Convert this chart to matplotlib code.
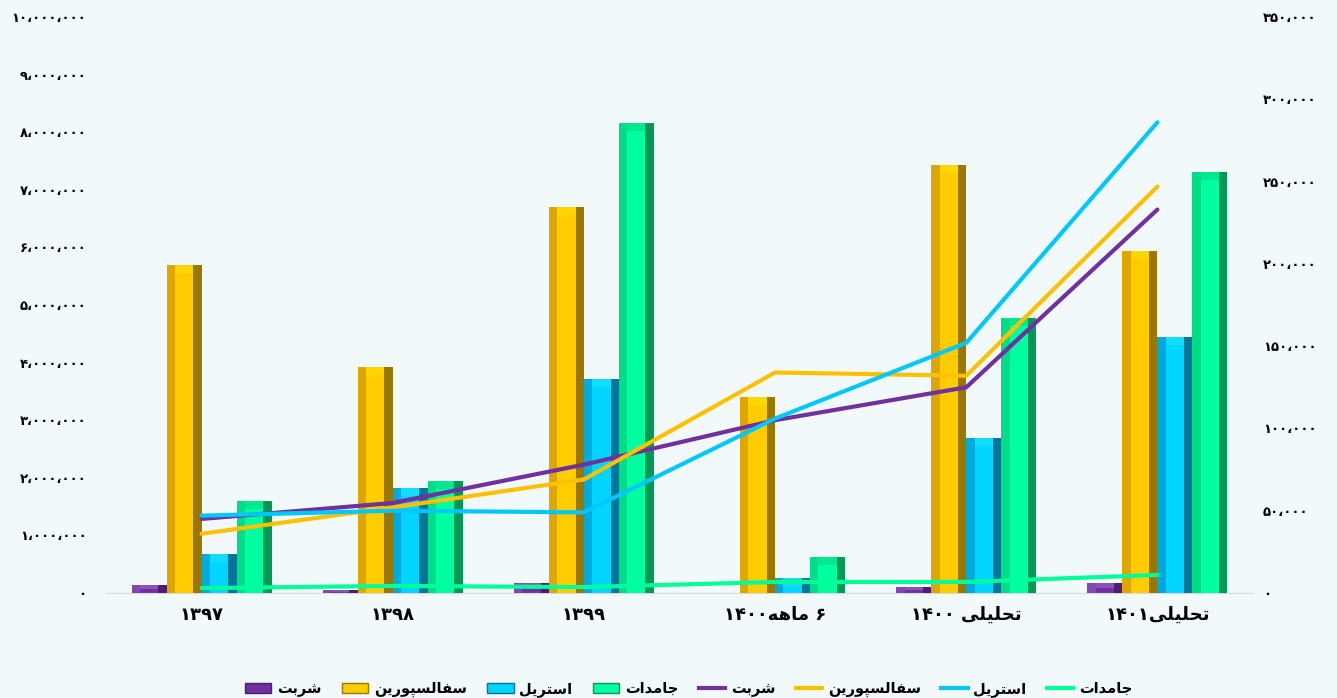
import numpy as np
import matplotlib
matplotlib.use('Agg')
import matplotlib.pyplot as plt
from matplotlib.patches import Patch
from matplotlib.lines import Line2D

# Data
categories = ['۱۳۹۷', '۱۳۹۸', '۱۳۹۹', '۶ ماهه۱۴۰۰', 'تحلیلی ۱۴۰۰', 'تحلیلی۱۴۰۱']
series_names = ['شربت', 'سفالسپورین', 'استریل', 'جامدات']

# bars, left axis
bar_sharbat = [140000, 50000, 170000, 0, 100000, 170000]
bar_cephalosporin = [5690000, 3920000, 6700000, 3400000, 7430000, 5940000]
bar_sterile = [680000, 1820000, 3720000, 260000, 2690000, 4440000]
bar_solid = [1600000, 1940000, 8160000, 630000, 4770000, 7310000]

# lines, right axis
line_sharbat = [45000, 54700, 78000, 105000, 125000, 233000]
line_cephalosporin = [36000, 52000, 69000, 134000, 132000, 247000]
line_sterile = [47000, 50000, 49000, 106000, 152000, 286000]
line_solid = [3000, 4300, 3600, 6700, 6700, 11000]

left_ticks = np.arange(0, 10000001, 1000000)
right_ticks = np.arange(0, 350001, 50000)


# --- poor man's arabic shaping (matplotlib does no text shaping) ---
FORMS = {
    'ا': ('\uFE8D', '\uFE8E', None, None),
    'ب': ('\uFE8F', '\uFE90', '\uFE91', '\uFE92'),
    'پ': ('\uFB56', '\uFB57', '\uFB58', '\uFB59'),
    'ت': ('\uFE95', '\uFE96', '\uFE97', '\uFE98'),
    'ج': ('\uFE9D', '\uFE9E', '\uFE9F', '\uFEA0'),
    'ح': ('\uFEA1', '\uFEA2', '\uFEA3', '\uFEA4'),
    'د': ('\uFEA9', '\uFEAA', None, None),
    'ر': ('\uFEAD', '\uFEAE', None, None),
    'س': ('\uFEB1', '\uFEB2', '\uFEB3', '\uFEB4'),
    'ش': ('\uFEB5', '\uFEB6', '\uFEB7', '\uFEB8'),
    'ف': ('\uFED1', '\uFED2', '\uFED3', '\uFED4'),
    'ل': ('\uFEDD', '\uFEDE', '\uFEDF', '\uFEE0'),
    'م': ('\uFEE1', '\uFEE2', '\uFEE3', '\uFEE4'),
    'ن': ('\uFEE5', '\uFEE6', '\uFEE7', '\uFEE8'),
    'ه': ('\uFEE9', '\uFEEA', '\uFEEB', '\uFEEC'),
    'و': ('\uFEED', '\uFEEE', None, None),
    'ی': ('\uFBFC', '\uFBFD', '\uFBFE', '\uFBFF'),
}


def is_letter(c):
    return c in FORMS


def shape(word):
    out = []
    for i, c in enumerate(word):
        iso, fin, ini, med = FORMS[c]
        prev = i > 0 and FORMS[word[i - 1]][2] is not None
        nxt = i < len(word) - 1 and ini is not None
        if prev and nxt:
            out.append(med)
        elif prev:
            out.append(fin)
        elif nxt:
            out.append(ini)
        else:
            out.append(iso)
    return ''.join(reversed(out))


def rtl(text):
    runs = []
    for c in text:
        kind = 'a' if is_letter(c) else ('s' if c == ' ' else 'n')
        if runs and runs[-1][0] == kind and kind != 's':
            runs[-1][1] += c
        else:
            runs.append([kind, c])
    parts = [shape(t) if k == 'a' else t for k, t in runs]
    return ''.join(reversed(parts))


def fa_num(v):
    s = f'{int(v):,}'.replace(',', '،')
    return s.translate(str.maketrans('0123456789', '۰۱۲۳۴۵۶۷۸۹'))


plt.rcParams['font.family'] = ['DejaVu Sans']

bg = '#F2F9FB'
fig = plt.figure(figsize=(13.37, 6.98), dpi=100, facecolor=bg)
ax = fig.add_axes([106 / 1337, 1 - 593 / 698, (1253 - 106) / 1337, (593 - 17) / 698])
ax.set_facecolor(bg)

x = np.arange(len(categories))
w = 0.183
bar_series = [bar_sharbat, bar_cephalosporin, bar_sterile, bar_solid]
# face, left bevel, right bevel, top bevel
bar_cols = [
    ('#7030A0', '#8446B4', '#4B1F6E', '#8C52BC'),
    ('#FFCC00', '#DDA600', '#997700', '#FFD700'),
    ('#00D5FF', '#00AADD', '#007799', '#10DEFF'),
    ('#00FFA0', '#00DD88', '#009955', '#00E890'),
]
top_h = 8 * 10000000 / 576
for i, (vals, cols) in enumerate(zip(bar_series, bar_cols)):
    xs = x + (i - 1.5) * w
    vals = np.array(vals)
    ax.bar(xs, vals, w, color=cols[0], zorder=2)
    ax.bar(xs - w * 0.38, vals, w * 0.24, color=cols[1], zorder=3)
    ax.bar(xs + w * 0.38, vals, w * 0.24, color=cols[2], zorder=3)
    th = np.minimum(top_h, vals * 0.5)
    ax.bar(xs, th, w * 0.52, bottom=vals - th, color=cols[3], zorder=3)

ax.set_xlim(-0.5, len(categories) - 0.5)
ax.set_ylim(0, 10000000)
ax.set_yticks(left_ticks)
ax.set_yticklabels([fa_num(v) for v in left_ticks], fontsize=9.5, fontweight='bold')
ax.set_xticks(x)
ax.set_xticklabels([rtl(c) for c in categories], fontsize=13, fontweight='bold')
ax.tick_params(axis='y', length=0, pad=14)
ax.tick_params(axis='x', length=0, pad=9)
for s in ['top', 'left', 'right']:
    ax.spines[s].set_visible(False)
ax.spines['bottom'].set_color('#D9D9D9')

ax2 = ax.twinx()
line_series = [line_sharbat, line_cephalosporin, line_sterile, line_solid]
line_cols = ['#7030A0', '#FFC000', '#00C8FF', '#00FF99']
for vals, col in zip(line_series, line_cols):
    ax2.plot(x, vals, color=col, lw=3.0, solid_capstyle='round', zorder=4)
ax2.set_ylim(0, 350000)
ax2.set_yticks(right_ticks)
ax2.set_yticklabels([fa_num(v) for v in right_ticks], fontsize=9.5, fontweight='bold')
ax2.tick_params(axis='y', length=0, pad=7)
for s in ['top', 'left', 'right', 'bottom']:
    ax2.spines[s].set_visible(False)

handles = [Patch(facecolor=c[0], edgecolor=c[2]) for c in bar_cols]
handles += [Line2D([0], [0], color=c, lw=3.0) for c in line_cols]
labels = [rtl(n) for n in series_names] * 2
fig.legend(handles, labels, loc='lower center', ncol=8, bbox_to_anchor=(0.515, -0.018),
           frameon=False, prop={'size': 10.5, 'weight': 'bold'},
           handlelength=1.8, columnspacing=1.4, handletextpad=0.4)

fig.savefig('out.png', dpi=100, facecolor=bg)
